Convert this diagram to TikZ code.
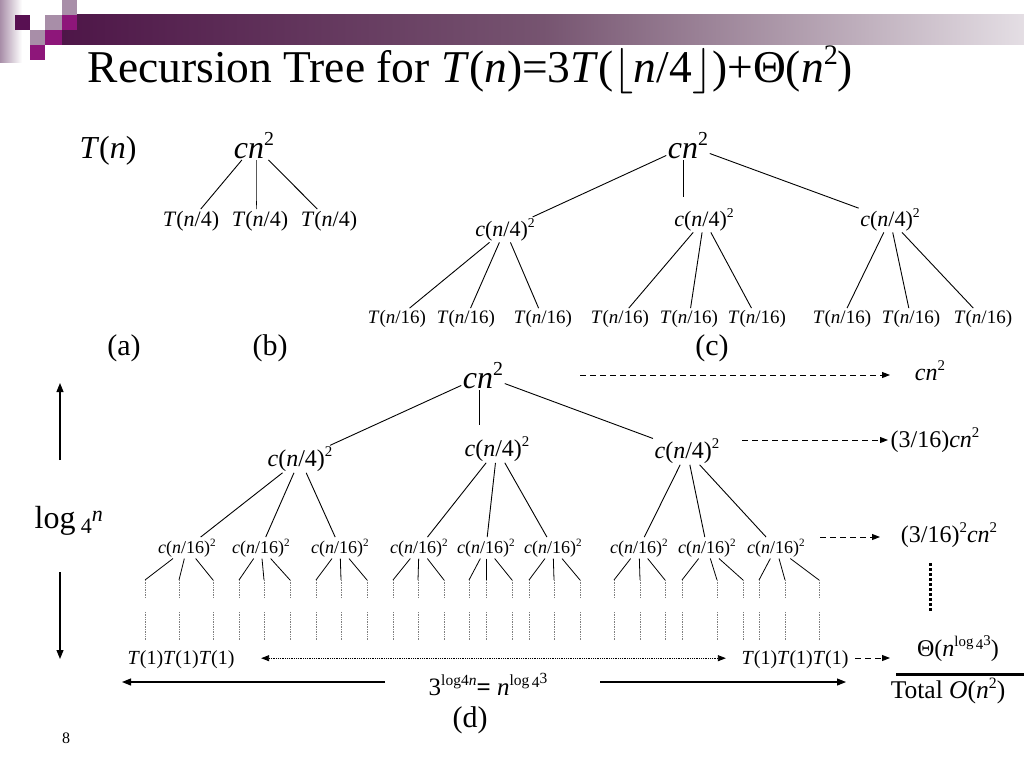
\RequirePackage{fix-cm}
\documentclass[tikz,border=0pt]{standalone}
\usepackage{fontspec}
\setmainfont{Liberation Serif}
\usetikzlibrary{arrows.meta}
\newcommand{\vi}[1]{\textit{#1}}
\newcommand{\fs}[1]{\fontsize{#1}{#1}\selectfont}
\newcommand{\su}[1]{\raisebox{0.38em}{\scalebox{0.62}{#1}}}
\newcommand{\sq}{\su{2}}
\definecolor{sqgray}{RGB}{168,142,168}
\definecolor{sqdark}{RGB}{88,16,82}
\definecolor{sqmag}{RGB}{142,22,122}
\definecolor{bardark}{RGB}{78,22,72}
\definecolor{barmid}{RGB}{118,84,112}
\definecolor{barlight}{RGB}{228,222,228}
\begin{document}
\begin{tikzpicture}[x=1pt,y=-1pt,
  txt/.style={inner sep=1.5pt,anchor=base},
  rootf/.style={txt,font=\fs{32}},
  lvla/.style={txt,font=\fs{22}},
  lvlb/.style={txt,font=\fs{24}},
  small/.style={txt,font=\fs{19}},
  tiny/.style={txt,font=\fs{18}},
  lbl/.style={txt,font=\fs{30}},
  side/.style={txt,font=\fs{24}},
  edge/.style={line width=0.9pt},
  stub/.style={line width=0.7pt,gray,densely dotted},
  dasharrow/.style={line width=0.9pt,dash pattern=on 6pt off 4pt,-{Triangle[length=8pt,width=6pt]}},
  arr/.style={line width=1.1pt,-{Triangle[length=9pt,width=7pt]}}]
\useasboundingbox (0,0) rectangle (1024,768);
% header decoration
\shade[left color=sqgray,right color=white] (0,0) rectangle (22,62);
\shade[left color=bardark,right color=barlight,middle color=barmid] (62,15) rectangle (1024,45);
\fill[sqgray] (62,0) rectangle (77,15);
\fill[sqdark] (15,15) rectangle (30,30);
\fill[sqgray] (45,15) rectangle (62,30);
\fill[sqmag] (62,15) rectangle (77,30);
\fill[sqgray] (30,30) rectangle (45,45);
\fill[sqmag] (45,30) rectangle (62,45);
\fill[sqmag] (30,45) rectangle (45,60);
% title
\node[txt,anchor=base west,font=\fs{45.5}] (title) at (86,82)
  {Recursion Tree for \vi{T}(\vi{n})=3\vi{T}($\lfloor$\vi{n}/4$\rfloor$)+Θ(\vi{n}\sq)};
% (a) and (b)
\node[rootf] (tn) at (108,158) {\vi{T}(\vi{n})};
\node[rootf] (b0) at (254,158) {\vi{cn}\sq};
\node[lvla] (b1) at (191,226) {\vi{T}(\vi{n}/4)};
\node[lvla] (b2) at (260,226) {\vi{T}(\vi{n}/4)};
\node[lvla] (b3) at (329,226) {\vi{T}(\vi{n}/4)};
\draw[edge] (b0) -- (b1);
\draw[edge] (b0) -- (b3);
\draw[edge] ([xshift=2pt]b0.south) -- ([xshift=2pt]b0.south |- b2.north) -- ++(0,-8);
\node[lbl] (la) at (124,355) {(a)};
\node[lbl] (lb) at (270,355) {(b)};
% (c)
\node[rootf] (c0) at (688,158) {\vi{cn}\sq};
\node[lvla] (c1) at (505,236) {\vi{c}(\vi{n}/4)\sq};
\node[lvla] (c2) at (704,226) {\vi{c}(\vi{n}/4)\sq};
\node[lvla] (c3) at (890,226) {\vi{c}(\vi{n}/4)\sq};
\draw[edge] (c0) -- (c1);
\draw[edge] (c0) -- (c3);
\draw[edge] ([xshift=-5pt]c0.south) -- ([xshift=-5pt,yshift=10pt]c0.south |- c2.north);
\foreach \p/\x/\c in {c1/397/c11,c1/466/c12,c1/543/c13,c2/620/c21,c2/689/c22,c2/757/c23,c3/842/c31,c3/911/c32,c3/983/c33}{
  \node[small] (\c) at (\x,323) {\vi{T}(\vi{n}/16)};
  \draw[edge] (\p) -- (\c);
}
\node[lbl] (lc) at (712,355) {(c)};
% (d)
\node[rootf] (d0) at (483,388) {\vi{cn}\sq};
\node[lvlb] (d1) at (300,466) {\vi{c}(\vi{n}/4)\sq};
\node[lvlb] (d2) at (497,456) {\vi{c}(\vi{n}/4)\sq};
\node[lvlb] (d3) at (687,458) {\vi{c}(\vi{n}/4)\sq};
\draw[edge] (d0) -- (d1);
\draw[edge] (d0) -- (d3);
\draw[edge] ([xshift=-4pt]d0.south) -- ([xshift=-4pt,yshift=10pt]d0.south |- d2.north);
\foreach \p/\x/\c/\a/\b/\e in {d1/187/d11/145/179/213,d1/261/d12/239/264/290,d1/340/d13/316/341/367,
  d2/419/d21/393/418/444,d2/486/d22/469/486/512,d2/553/d23/529/554/580,
  d3/639/d31/614/640/665,d3/707/d32/682/717/743,d3/776/d33/759/785/819}{
  \node[tiny] (\c) at (\x,553) {\vi{c}(\vi{n}/16)\sq};
  \draw[edge] (\p) -- (\c);
  \foreach \l in {\a,\b,\e}{
    \coordinate (\c-\l) at (\l,580);
    \draw[line width=0.8pt] (\c) -- (\c-\l);
    \draw[stub] (\c-\l) -- ++(0,18);
    \draw[stub] ([yshift=-32pt]\c-\l) -- ++(0,28);
  }
}
\node[txt,font=\fs{20}] (t1l) at (181,664) {\vi{T}(1)\vi{T}(1)\vi{T}(1)};
\node[txt,font=\fs{20}] (t1r) at (795,664) {\vi{T}(1)\vi{T}(1)\vi{T}(1)};
\draw[line width=0.8pt,densely dotted,{Triangle[length=8pt,width=6pt]}-{Triangle[length=8pt,width=6pt]}]
  ([xshift=25pt,yshift=1pt]t1l.east) -- ([xshift=-14pt,yshift=1pt]t1r.west);
% right column
\node[side] (r1) at (930,380) {\vi{cn}\sq};
\node[side] (r2) at (935,447) {(3/16)\vi{cn}\sq};
\node[side] (r3) at (949,542) {(3/16)\sq\vi{cn}\sq};
\node[side] (r4) at (958,656) {Θ(\vi{n}\su{log\,\raisebox{-4pt}{4}\raisebox{3pt}{3}})};
\node[side,font=\fs{25.5}] (r5) at (948,698) {Total \vi{O}(\vi{n}\sq)};
\coordinate (s1) at (580,375); \coordinate (e1) at (890,375);
\coordinate (s2) at (742,440); \coordinate (e2) at (888,440);
\coordinate (s3) at (820,537); \coordinate (e3) at (880,537);
\coordinate (s4) at (855,658); \coordinate (e4) at (890,658);
\draw[dasharrow] (s1) -- (e1);
\draw[dasharrow] (s2) -- (e2);
\draw[dasharrow] (s3) -- (e3);
\draw[dasharrow] (s4) -- (e4);
\draw[line width=3pt,dotted] (930,563) -- (930,612);
\draw[line width=3pt] (896,674) -- (1024,674);
% left height arrows
\node[txt,anchor=base west,font=\fs{32}] (lg) at (33,528) {log\,\raisebox{-5pt}{\fs{22}4}\raisebox{7pt}{\fs{22}\vi{n}}};
\coordinate (u1) at (60,460); \coordinate (u2) at (60,383);
\coordinate (v1) at (60,572); \coordinate (v2) at (60,659);
\draw[arr] (u1) -- (u2);
\draw[arr] (v1) -- (v2);
% bottom width
\node[txt,anchor=base west,font=\fs{25}] (fw) at (427,695)
  {3\su{log4\vi{n}}\textbf{=} \vi{n}\su{log\,\raisebox{-4pt}{4}\raisebox{3pt}{3}}};
\coordinate (w1) at (385,682); \coordinate (w2) at (122,682);
\coordinate (w3) at (600,682); \coordinate (w4) at (846,682);
\draw[arr] (w1) -- (w2);
\draw[arr] (w3) -- (w4);
\node[lbl] (ld) at (470,727) {(d)};
\node[txt,font=\fs{16}] (pg) at (66,743) {8};
\end{tikzpicture}
\end{document}
